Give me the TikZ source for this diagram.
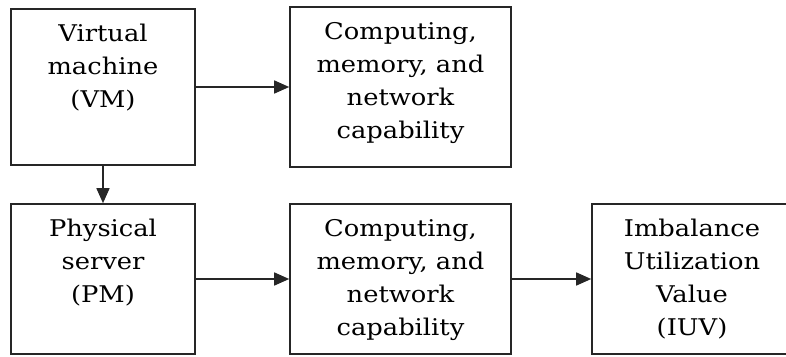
\documentclass[tikz,border=0pt]{standalone}
\usepackage{fontspec}
\setmainfont{DejaVu Serif}[FakeStretch=1.12]
\usetikzlibrary{arrows.meta}
\begin{document}
\begin{tikzpicture}[x=1pt,y=-1pt,
  box/.style={draw=black!85, line width=1.6pt, rectangle, inner sep=0pt},
  boxtext/.style={anchor=north, align=center, inner sep=0pt,
    font=\fontsize{23}{33}\selectfont},
  link/.style={draw=black!85, line width=1.5pt,
    -{Triangle[length=15pt,width=13pt]}}]
\clip (0,0) rectangle (786,356);
% boxes
\node[box, minimum width=184pt, minimum height=156pt] (vm)   at (103,87)   {};
\node[box, minimum width=221pt, minimum height=160pt] (cap1) at (400.5,87) {};
\node[box, minimum width=184pt, minimum height=150pt] (pm)   at (103,279)  {};
\node[box, minimum width=221pt, minimum height=150pt] (cap2) at (400.5,279) {};
\node[box, minimum width=200pt, minimum height=150pt] (iuv)  at (692,279)  {};
% texts, set from the top of each box
\node[boxtext] (vmt)   at ([yshift=-16pt]vm.north)   {Virtual\\machine\\(VM)};
\node[boxtext] (cap1t) at ([yshift=-16pt]cap1.north) {Computing,\\memory, and\\network\\capability};
\node[boxtext] (pmt)   at ([yshift=-16pt]pm.north)   {Physical\\server\\(PM)};
\node[boxtext] (cap2t) at ([yshift=-16pt]cap2.north) {Computing,\\memory, and\\network\\capability};
\node[boxtext] (iuvt)  at ([yshift=-16pt]iuv.north)  {Imbalance\\Utilization\\Value\\(IUV)};
% connectors
\draw[link] (vm.east) -- (cap1.west);
\draw[link] (vm.south) -- (pm.north);
\draw[link] (pm.east) -- (cap2.west);
\draw[link] (cap2.east) -- (iuv.west);
\end{tikzpicture}
\end{document}
